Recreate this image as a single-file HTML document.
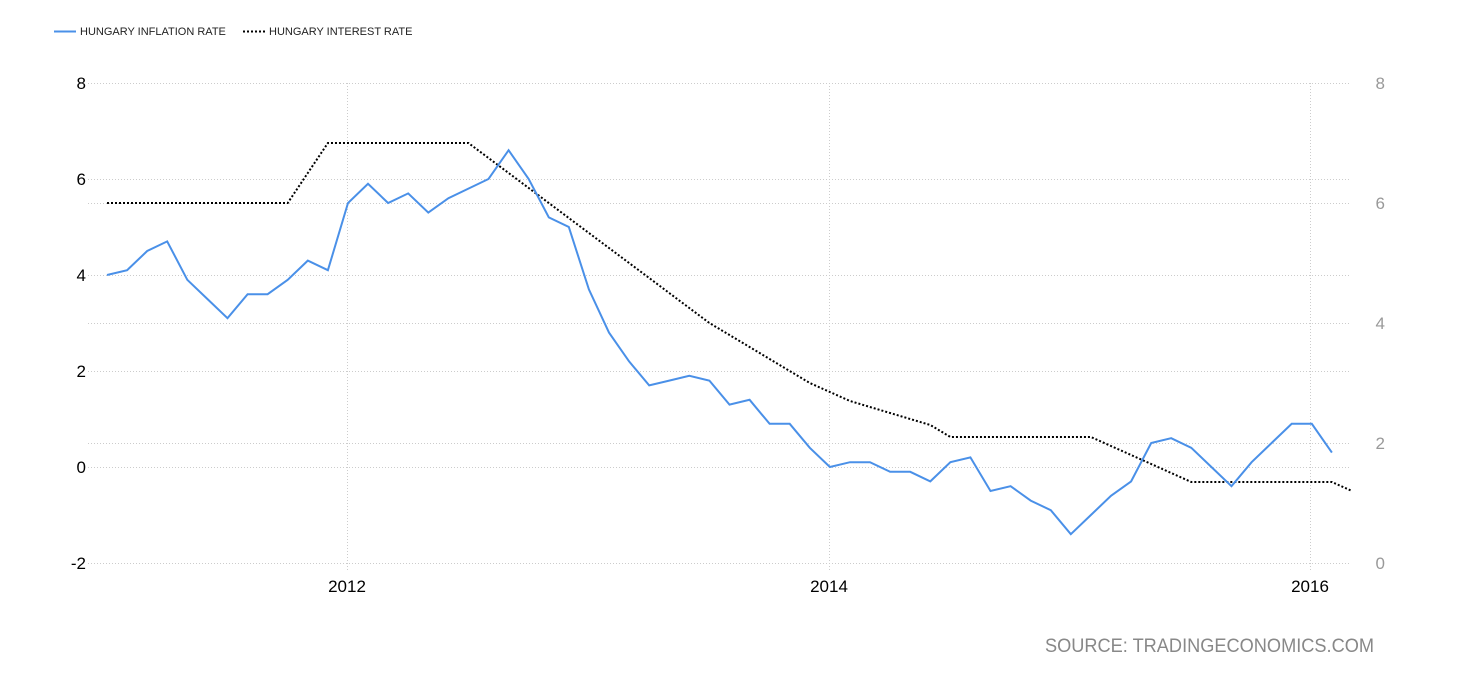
<!DOCTYPE html>
<html><head><meta charset="utf-8"><style>
html,body{margin:0;padding:0;background:#fff;}
svg{display:block;font-family:"Liberation Sans",sans-serif;}
</style></head><body>
<svg id="c" width="1460" height="680" viewBox="0 0 1460 680">
<g stroke="#ccc" stroke-width="1" stroke-dasharray="1,2" fill="none">
<line x1="88" y1="83.5" x2="1350" y2="83.5"/>
<line x1="88" y1="179.5" x2="1350" y2="179.5"/>
<line x1="88" y1="203.5" x2="1350" y2="203.5"/>
<line x1="88" y1="275.5" x2="1350" y2="275.5"/>
<line x1="88" y1="323.5" x2="1350" y2="323.5"/>
<line x1="88" y1="371.5" x2="1350" y2="371.5"/>
<line x1="88" y1="443.5" x2="1350" y2="443.5"/>
<line x1="88" y1="467.5" x2="1350" y2="467.5"/>
<line x1="88" y1="563.5" x2="1350" y2="563.5"/>
<line x1="347.5" y1="83" x2="347.5" y2="570"/>
<line x1="829.5" y1="83" x2="829.5" y2="570"/>
<line x1="1310.5" y1="83" x2="1310.5" y2="570"/>
</g>
<g font-size="17" fill="#000" text-anchor="end">
<text x="86" y="89">8</text><text x="86" y="185">6</text><text x="86" y="281">4</text>
<text x="86" y="377">2</text><text x="86" y="473">0</text><text x="86" y="569">-2</text>
</g>
<g font-size="17" fill="#999" text-anchor="end">
<text x="1385" y="89">8</text><text x="1385" y="209">6</text><text x="1385" y="329">4</text>
<text x="1385" y="449">2</text><text x="1385" y="569">0</text>
</g>
<g font-size="17" fill="#000" text-anchor="middle">
<text x="347" y="592">2012</text><text x="829" y="592">2014</text><text x="1310" y="592">2016</text>
</g>
<text x="1045" y="652" font-size="19" fill="#888" textLength="329" lengthAdjust="spacingAndGlyphs">SOURCE: TRADINGECONOMICS.COM</text>
<line x1="54" y1="31.5" x2="76" y2="31.5" stroke="#4a90e8" stroke-width="2"/>
<text x="80" y="35" font-size="11" fill="#222">HUNGARY INFLATION RATE</text>
<line x1="243" y1="31.5" x2="265" y2="31.5" stroke="#000" stroke-width="2" stroke-dasharray="2,2"/>
<text x="269" y="35" font-size="11" fill="#222">HUNGARY INTEREST RATE</text>
<path id="ir" fill="none" stroke="#000" stroke-width="2" stroke-dasharray="2,2"/>
<path id="inf" fill="none" stroke="#4a90e8" stroke-width="2"/>
</svg>
<script>
var inf=[4.0,4.1,4.5,4.7,3.9,3.5,3.1,3.6,3.6,3.9,4.3,4.1,5.5,5.9,5.5,5.7,5.3,5.6,5.8,6.0,6.6,6.0,5.2,5.0,3.7,2.8,2.2,1.7,1.8,1.9,1.8,1.3,1.4,0.9,0.9,0.4,0.0,0.1,0.1,-0.1,-0.1,-0.3,0.1,0.2,-0.5,-0.4,-0.7,-0.9,-1.4,-1.0,-0.6,-0.3,0.5,0.6,0.4,0.0,-0.4,0.1,0.5,0.9,0.9,0.3];
var ir=[6,6,6,6,6,6,6,6,6,6,6.5,7,7,7,7,7,7,7,7,6.75,6.5,6.25,6,5.75,5.5,5.25,5,4.75,4.5,4.25,4,3.8,3.6,3.4,3.2,3.0,2.85,2.7,2.6,2.5,2.4,2.3,2.1,2.1,2.1,2.1,2.1,2.1,2.1,2.1,1.95,1.8,1.65,1.5,1.35,1.35,1.35,1.35,1.35,1.35,1.35,1.35,1.2];
function x(i){return 107+i*20.08;}
document.getElementById('inf').setAttribute('d',inf.map(function(v,i){return (i?'L':'M')+x(i).toFixed(1)+' '+(467-v*48).toFixed(1);}).join(''));
document.getElementById('ir').setAttribute('d',ir.map(function(v,i){return (i?'L':'M')+x(i).toFixed(1)+' '+(563-v*60).toFixed(1);}).join(''));
</script>
</body></html>
